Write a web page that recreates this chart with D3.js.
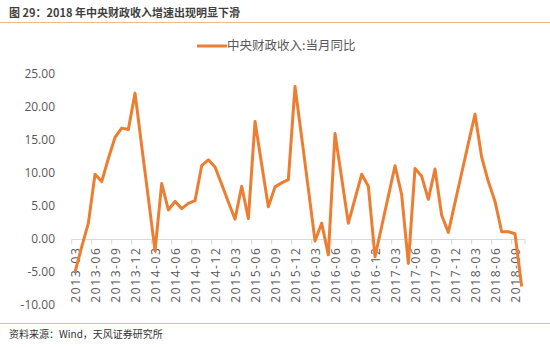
<!DOCTYPE html>
<html>
<head>
<meta charset="utf-8">
<script src="https://cdn.jsdelivr.net/npm/d3@7"></script>
<style>
  html, body { margin: 0; padding: 0; background: #fff; }
  svg { display: block; }
</style>
</head>
<body>
<svg id="chart" width="550" height="347"></svg>
<script>
// Monthly categories, 2013-03 .. 2018-10
const months = [
  "2013-03","2013-04","2013-05","2013-06","2013-07","2013-08","2013-09","2013-10","2013-11","2013-12",
  "2014-01","2014-02","2014-03","2014-04","2014-05","2014-06","2014-07","2014-08","2014-09","2014-10","2014-11","2014-12",
  "2015-01","2015-02","2015-03","2015-04","2015-05","2015-06","2015-07","2015-08","2015-09","2015-10","2015-11","2015-12",
  "2016-01","2016-02","2016-03","2016-04","2016-05","2016-06","2016-07","2016-08","2016-09","2016-10","2016-11","2016-12",
  "2017-01","2017-02","2017-03","2017-04","2017-05","2017-06","2017-07","2017-08","2017-09","2017-10","2017-11","2017-12",
  "2018-01","2018-02","2018-03","2018-04","2018-05","2018-06","2018-07","2018-08","2018-09","2018-10"
];

// 中央财政收入:当月同比 (%)
const revenueYoY = [
  -5.0, -1.2, 2.4, 9.8, 8.7, 12.2, 15.4, 16.8, 16.6, 22.1,
  14.1, 6.2, -1.8, 8.4, 4.4, 5.7, 4.6, 5.4, 5.8, 11.1, 12.0, 10.9,
  8.3, 5.6, 3.0, 8.0, 3.1, 17.8, 11.3, 4.9, 7.9, 8.5, 9.0, 23.1,
  15.4, 7.6, -0.3, 2.4, -2.4, 16.0, 9.2, 2.4, 6.1, 9.8, 8.0, -2.7,
  1.9, 6.5, 11.1, 6.7, -3.7, 10.7, 9.5, 6.0, 10.6, 3.6, 1.0, 5.5,
  10.0, 14.5, 18.9, 12.4, 8.7, 5.7, 1.1, 1.1, 0.8, -7.2
];

const yTicks = [-10, -5, 0, 5, 10, 15, 20, 25];
const xTickLabels = months.filter((m, i) => i % 3 === 0);

const seriesName = "中央财政收入:当月同比";
const titleText = "图 29：2018 年中央财政收入增速出现明显下滑";
const sourceText = "资料来源：Wind，天风证券研究所";

const svg = d3.select("#chart");
const W = 550, H = 347;
const plot = { left: 71.7, right: 525, top: 74, bottom: 305 };

const numFont = "'Open Sans', 'Noto Sans CJK SC', sans-serif";
const cjkFont = "'Noto Sans CJK SC', 'Noto Sans', sans-serif";
const lineColor = "#ED7D31";
const rule = "#EDBB88";

// header
svg.append("text")
  .attr("x", 9).attr("y", 17)
  .attr("font-family", cjkFont)
  .attr("font-size", 11).attr("font-weight", "bold")
  .attr("fill", "#3f3f3f")
  .text(titleText);
svg.append("line")
  .attr("x1", 0).attr("x2", W).attr("y1", 22.5).attr("y2", 22.5)
  .attr("stroke", rule).attr("stroke-width", 1.2);

// footer
svg.append("line")
  .attr("x1", 0).attr("x2", W).attr("y1", 323.5).attr("y2", 323.5)
  .attr("stroke", rule).attr("stroke-width", 1.2);
svg.append("text")
  .attr("x", 9).attr("y", 338)
  .attr("font-family", cjkFont)
  .attr("font-size", 10)
  .attr("fill", "#333")
  .text(sourceText);

// scales
const x = d3.scaleBand().domain(months).range([plot.left, plot.right]).padding(0);
const xc = d => x(d) + x.bandwidth() / 2;
const y = d3.scaleLinear().domain([-10, 25]).range([plot.bottom, plot.top]);

const locale = d3.formatLocale({ decimal: ".", thousands: ",", grouping: [3], currency: ["", ""], minus: "-" });
const fmt = locale.format(".2f");

// y axis labels (no line, no ticks)
const yAxis = d3.axisLeft(y).tickValues(yTicks).tickFormat(fmt).tickSize(0).tickPadding(0);
const gy = svg.append("g").attr("transform", "translate(55,0)").call(yAxis);
gy.select(".domain").remove();
gy.selectAll("text")
  .attr("font-family", numFont).attr("font-size", 12).attr("fill", "#595959");

// x axis at zero
const y0 = Math.round(y(0)) + 0.5;
const gx = svg.append("g").attr("transform", `translate(0,${y0})`);
gx.append("line")
  .attr("x1", plot.left).attr("x2", plot.right)
  .attr("stroke", "#d9d9d9").attr("stroke-width", 1);
gx.selectAll("line.tick")
  .data(xTickLabels.concat([null]))
  .join("line")
  .attr("class", "tick")
  .attr("x1", d => d === null ? plot.right : x(d))
  .attr("x2", d => d === null ? plot.right : x(d))
  .attr("y1", 0).attr("y2", 5)
  .attr("stroke", "#d9d9d9").attr("stroke-width", 1);

const xAxis = d3.axisBottom(d3.scalePoint().domain(months).range([xc(months[0]), xc(months[months.length - 1])]))
  .tickValues(xTickLabels).tickSize(0);
const gl = svg.append("g").attr("transform", `translate(0,${y0})`).call(xAxis);
gl.select(".domain").remove();
gl.selectAll("text")
  .attr("font-family", numFont).attr("font-size", 12).attr("fill", "#595959")
  .attr("letter-spacing", "1.6px")
  .attr("text-anchor", "end")
  .attr("dy", "0.35em")
  .attr("transform", "translate(0,7) rotate(-90)")
  .attr("x", 0).attr("y", 0);

// series line
const line = d3.line().x((d, i) => xc(months[i])).y(d => y(d));
svg.append("path")
  .datum(revenueYoY)
  .attr("d", line)
  .attr("fill", "none")
  .attr("stroke", lineColor)
  .attr("stroke-width", 3)
  .attr("stroke-linejoin", "round");

// legend
const lg = svg.append("g");
lg.append("line")
  .attr("x1", 197).attr("x2", 227).attr("y1", 46).attr("y2", 46)
  .attr("stroke", lineColor).attr("stroke-width", 3);
lg.append("text")
  .attr("x", 227).attr("y", 46).attr("dy", "0.35em")
  .attr("font-family", cjkFont).attr("font-size", 12.5).attr("fill", "#595959")
  .text(seriesName);
</script>
</body>
</html>
